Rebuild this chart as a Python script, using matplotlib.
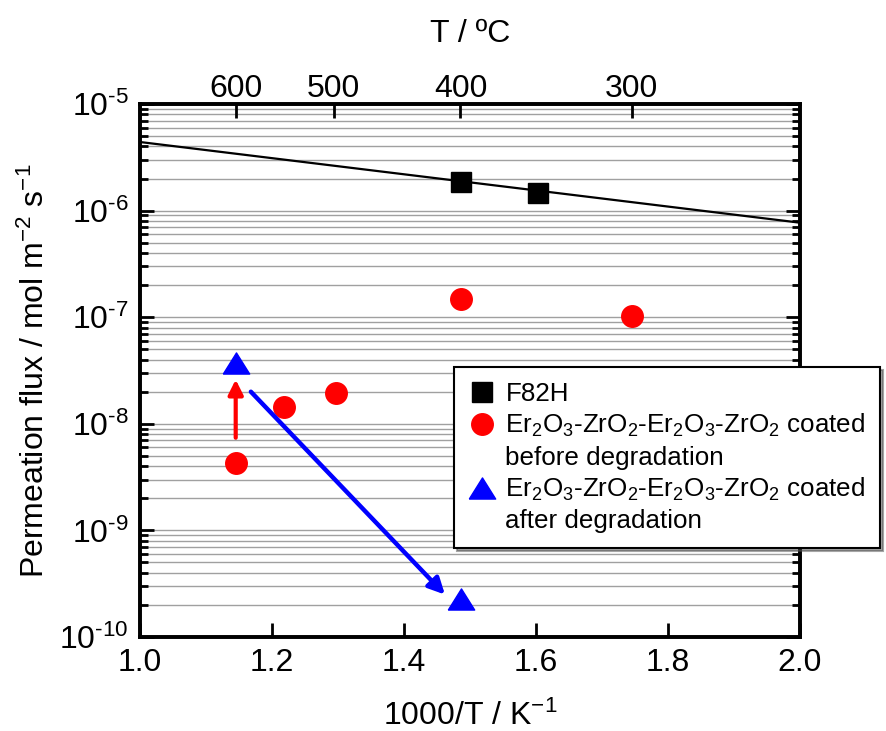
import numpy as np
import matplotlib
matplotlib.use("Agg")
import matplotlib.pyplot as plt
from matplotlib.lines import Line2D
from matplotlib.ticker import LogLocator, NullFormatter, FuncFormatter

plt.rcParams['font.family'] = ['Liberation Sans', 'DejaVu Sans']
plt.rcParams['mathtext.fontset'] = 'custom'
plt.rcParams['mathtext.rm'] = 'Liberation Sans'
plt.rcParams['mathtext.it'] = 'Liberation Sans'
plt.rcParams['mathtext.bf'] = 'Liberation Sans:bold'

# ───── DATA ────────────────────────────────────────────────────
# bare F82H
f82h_x = [1.486, 1.603]
f82h_y = [1.85e-6, 1.46e-6]
# Arrhenius fit of F82H, evaluated at the axis ends
fit_x = [1.0, 2.0]
fit_y = [4.4e-6, 7.7e-7]
# Er2O3-ZrO2 multilayer, before degradation
before_x = [1.145, 1.218, 1.297, 1.486, 1.745]
before_y = [4.3e-9, 1.44e-8, 1.95e-8, 1.48e-7, 1.03e-7]
# Er2O3-ZrO2 multilayer, after degradation
after_x = [1.145, 1.486]
after_y = [3.7e-8, 2.26e-10]
# arrows: (tail, head) in data coordinates
red_arrow = [(1.145, 7.4e-9), (1.145, 2.6e-8)]
blue_arrow = [(1.168, 2.0e-8), (1.462, 2.5e-10)]
# top axis temperatures in degC
top_T = [600, 500, 400, 300]
# ───────────────────────────────────────────────────────────────

TICK_FS = 23
LABEL_FS = 23
LEGEND_FS = 18.7

coat = r'Er$_2$O$_3$-ZrO$_2$-Er$_2$O$_3$-ZrO$_2$ coated'
tri = [(-1.25, -1.0), (1.25, -1.0), (0.0, 1.0), (-1.25, -1.0)]


def decade_label(v, pos):
    # 10^n with a short hyphen in the exponent
    n = int(round(np.log10(v)))
    if n < 0:
        return r'$10^{\text{-}%d}$' % (-n)
    return r'$10^{%d}$' % n


fig = plt.figure(figsize=(8.86, 7.31), dpi=100)
ax = fig.add_axes([140 / 886, 1 - 637 / 731, 660 / 886, 533 / 731])

ax.set_yscale('log')
ax.set_xlim(1.0, 2.0)
ax.set_ylim(1e-10, 1e-5)

# grid on every decade subdivision
ax.yaxis.set_major_locator(LogLocator(base=10, numticks=20))
ax.yaxis.set_minor_locator(LogLocator(base=10, subs=np.arange(2, 10), numticks=20))
ax.yaxis.set_major_formatter(FuncFormatter(decade_label))
ax.yaxis.set_minor_formatter(NullFormatter())
ax.grid(True, which='both', axis='y', color='#a0a0a0', lw=1.0)
ax.set_axisbelow(True)

ax.plot(fit_x, fit_y, color='black', lw=1.6, zorder=3)
h1, = ax.plot(f82h_x, f82h_y, ls='none', marker='s', ms=13.7,
              color='black', zorder=4)
h2, = ax.plot(before_x, before_y, ls='none', marker='o', ms=15.5,
              color='#ff0000', zorder=4)
h3, = ax.plot(after_x, after_y, ls='none', marker=tri, ms=19,
              color='#0000ff', zorder=4)

ax.annotate('', xy=red_arrow[1], xytext=red_arrow[0],
            arrowprops=dict(arrowstyle='-|>', color='#ff0000', lw=3,
                            mutation_scale=22, shrinkA=0, shrinkB=0),
            zorder=5)
ax.annotate('', xy=blue_arrow[1], xytext=blue_arrow[0],
            arrowprops=dict(arrowstyle='-|>', color='#0000ff', lw=3.2,
                            mutation_scale=24, shrinkA=0, shrinkB=0),
            zorder=5)

ax.set_xticks([1.0, 1.2, 1.4, 1.6, 1.8, 2.0])
ax.set_xticklabels(['1.0', '1.2', '1.4', '1.6', '1.8', '2.0'])
ax.tick_params(which='both', direction='in', left=True, right=True,
               top=False, bottom=True, labelsize=TICK_FS, width=2)
ax.tick_params(which='major', length=10)
ax.tick_params(which='minor', length=6)
ax.tick_params(axis='x', pad=8)
ax.tick_params(axis='y', pad=8)

for s in ax.spines.values():
    s.set_linewidth(2.6)

ax.set_xlabel(r'1000/T / K$^{-1}$', fontsize=LABEL_FS, labelpad=16)
ax.set_ylabel(r'Permeation flux / mol m$^{-2}$ s$^{-1}$', fontsize=LABEL_FS,
              labelpad=6)

# temperature scale on top
ax2 = ax.twiny()
ax2.set_xlim(ax.get_xlim())
ax2.set_xticks([1000.0 / (t + 273.15) for t in top_T])
ax2.set_xticklabels([str(t) for t in top_T])
ax2.tick_params(direction='in', length=10, width=2, labelsize=TICK_FS, pad=0)
ax2.set_xlabel('T / ºC', fontsize=LABEL_FS, labelpad=23)
for s in ax2.spines.values():
    s.set_linewidth(2.6)

# legend on the top axes so the frame sits above both spines
blank = Line2D([], [], ls='none')
leg = ax2.legend([h1, h2, blank, h3, blank],
                 ['F82H', coat, 'before degradation', coat, 'after degradation'],
                 loc='upper left', bbox_to_anchor=(454 / 886, 1 - 367 / 731),
                 bbox_transform=fig.transFigure, borderaxespad=0,
                 fontsize=LEGEND_FS, frameon=True, fancybox=False, shadow=True,
                 handlelength=1.0, handletextpad=0.4, labelspacing=0.24,
                 borderpad=0.58)
leg.get_frame().set_edgecolor('black')
leg.get_frame().set_linewidth(1.5)
leg.set_zorder(10)

fig.savefig('out.png', dpi=100)
plt.close(fig)
